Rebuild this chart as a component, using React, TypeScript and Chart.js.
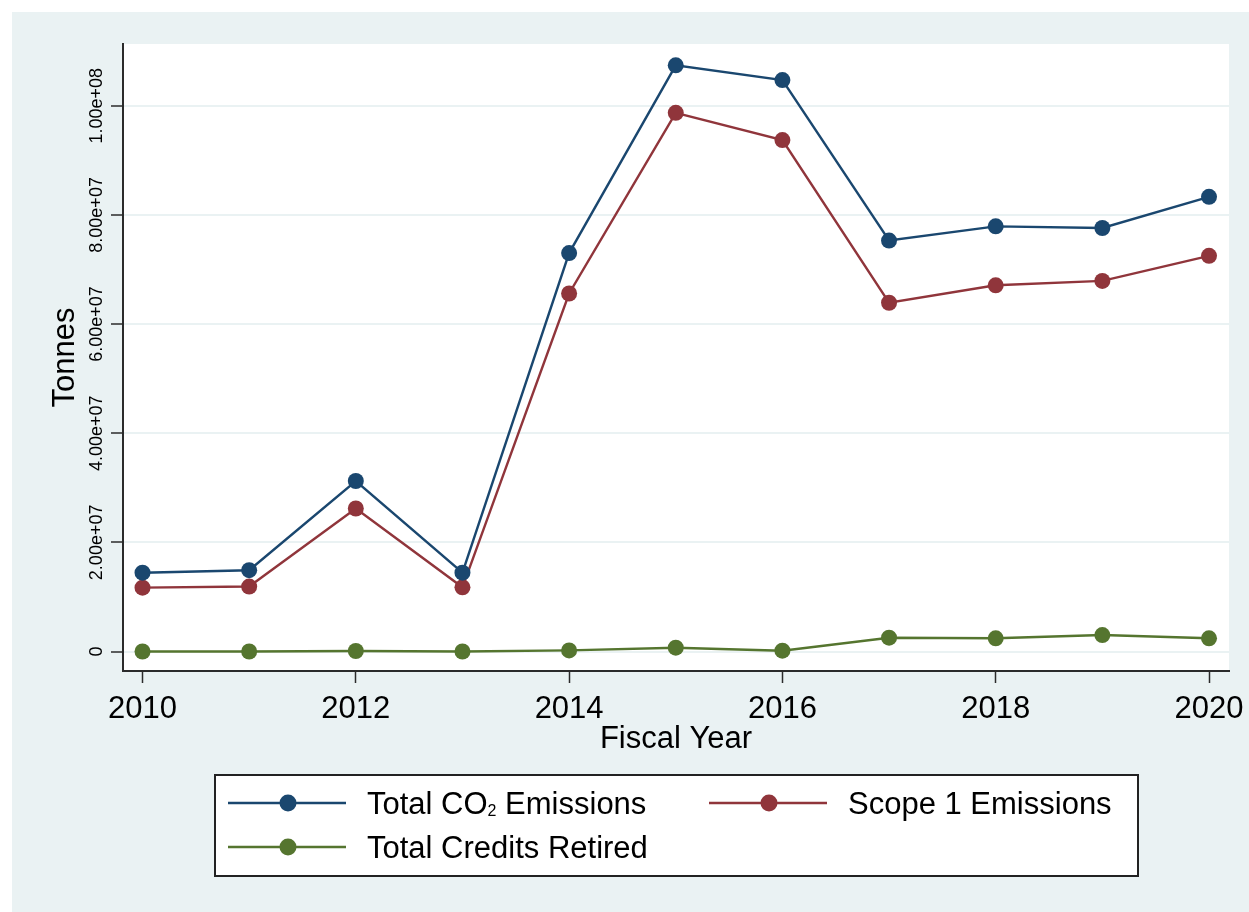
import React, { useEffect, useRef } from 'react';
import { Chart, registerables } from 'chart.js';

Chart.register(...registerables);

// Fiscal years and emissions series (tonnes)
const years = [2010, 2011, 2012, 2013, 2014, 2015, 2016, 2017, 2018, 2019, 2020];
const totalCO2 = [1.444e7, 1.49e7, 3.124e7, 1.444e7, 7.3e7, 1.074e8, 1.047e8, 7.53e7, 7.79e7, 7.76e7, 8.33e7];
const scope1 = [1.17e7, 1.19e7, 2.62e7, 1.176e7, 6.56e7, 9.87e7, 9.37e7, 6.39e7, 6.71e7, 6.79e7, 7.25e7];
const creditsRetired = [0, 0, 1.0e5, 0, 2.0e5, 7.0e5, 1.5e5, 2.53e6, 2.42e6, 3.02e6, 2.42e6];

const seriesLabels = ['Total CO₂ Emissions', 'Scope 1 Emissions', 'Total Credits Retired'];
const seriesColors = ['#1a476f', '#90353b', '#55752f'];

const xTicks = [2010, 2012, 2014, 2016, 2018, 2020];
const yTicks = [0, 2e7, 4e7, 6e7, 8e7, 1e8];
const yTickLabels = ['0', '2.00e+07', '4.00e+07', '6.00e+07', '8.00e+07', '1.00e+08'];

const FONT = "'Liberation Sans', Arial, Helvetica, sans-serif";
const BG = '#eaf2f3';
const AXIS = '#2b2b2b';

// White plot region behind the grid
const plotBackground = {
  id: 'plotBackground',
  beforeDraw(chart: any) {
    const { ctx, chartArea: a } = chart;
    ctx.save();
    ctx.fillStyle = '#ffffff';
    ctx.fillRect(a.left, a.top, a.right - a.left, a.bottom - a.top);
    ctx.restore();
  },
};

// Rotated y tick labels, reading bottom to top
const rotatedYLabels = {
  id: 'rotatedYLabels',
  afterDraw(chart: any) {
    const { ctx } = chart;
    const y = chart.scales.y;
    ctx.save();
    ctx.fillStyle = '#000';
    ctx.font = `18px ${FONT}`;
    ctx.textAlign = 'center';
    ctx.textBaseline = 'alphabetic';
    yTicks.forEach((v, i) => {
      const py = y.getPixelForValue(v);
      ctx.save();
      ctx.translate(y.right - 21.3, py);
      ctx.rotate(-Math.PI / 2);
      ctx.fillText(yTickLabels[i], 0, 0);
      ctx.restore();
    });
    ctx.restore();
  },
};

// Draws a label, rendering "₂" as a lowered small digit
function drawLabel(ctx: CanvasRenderingContext2D, text: string, x: number, baseline: number) {
  const parts = text.split('₂');
  let cx = x;
  parts.forEach((part, i) => {
    ctx.font = `31px ${FONT}`;
    ctx.fillText(part, cx, baseline);
    cx += ctx.measureText(part).width;
    if (i < parts.length - 1) {
      ctx.font = `16px ${FONT}`;
      ctx.fillText('2', cx, baseline + 2);
      cx += ctx.measureText('2').width;
    }
  });
}

// Boxed two-column legend below the axis
const boxedLegend = {
  id: 'boxedLegend',
  afterDraw(chart: any) {
    const { ctx, chartArea: a } = chart;
    const datasets = chart.data.datasets;
    const boxW = 923;
    const boxH = 101;
    const cx = (a.left + a.right) / 2;
    const left = Math.round(cx - boxW / 2);
    const top = a.bottom + 104;
    ctx.save();
    ctx.fillStyle = '#ffffff';
    ctx.fillRect(left, top, boxW, boxH);
    ctx.strokeStyle = '#222';
    ctx.lineWidth = 2;
    ctx.strokeRect(left, top, boxW, boxH);

    const colX = [left + 13, left + 494];
    const rowY = [top + 28, top + 72];
    datasets.forEach((ds: any, i: number) => {
      const col = i % 2;
      const row = Math.floor(i / 2);
      const x0 = colX[col];
      const yc = rowY[row];
      ctx.strokeStyle = ds.borderColor;
      ctx.lineWidth = 2.5;
      ctx.beginPath();
      ctx.moveTo(x0, yc);
      ctx.lineTo(x0 + 118, yc);
      ctx.stroke();
      ctx.fillStyle = ds.borderColor;
      ctx.beginPath();
      ctx.arc(x0 + 60, yc, 8.5, 0, Math.PI * 2);
      ctx.fill();
      ctx.fillStyle = '#000';
      ctx.textAlign = 'left';
      ctx.textBaseline = 'alphabetic';
      drawLabel(ctx, ds.label, x0 + 139, yc + 11);
    });
    ctx.restore();
  },
};

export default function App() {
  const canvasRef = useRef<HTMLCanvasElement | null>(null);

  useEffect(() => {
    const canvas = canvasRef.current;
    if (!canvas) return;
    const values = [totalCO2, scope1, creditsRetired];
    const chart = new Chart(canvas, {
      type: 'line',
      data: {
        datasets: values.map((arr, i) => ({
          label: seriesLabels[i],
          data: years.map((yr, j) => ({ x: yr, y: arr[j] })),
          borderColor: seriesColors[i],
          backgroundColor: seriesColors[i],
          pointBackgroundColor: seriesColors[i],
          pointBorderColor: seriesColors[i],
          pointBorderWidth: 0,
          borderWidth: 2.4,
          pointRadius: 8,
          pointHoverRadius: 8,
          tension: 0,
          fill: false,
        })),
      },
      options: {
        responsive: false,
        animation: false,
        devicePixelRatio: 1,
        layout: { padding: { left: 0, top: 32, right: 20, bottom: 154 } },
        plugins: {
          legend: { display: false },
          tooltip: { enabled: false },
        },
        scales: {
          x: {
            type: 'linear',
            min: 2009.817,
            max: 2020.1875,
            afterBuildTicks: (scale: any) => {
              scale.ticks = xTicks.map((v) => ({ value: v }));
            },
            afterFit: (scale: any) => {
              scale.height = 87;
              scale.paddingLeft = 0;
              scale.paddingRight = 0;
            },
            ticks: {
              color: '#000',
              font: { family: FONT, size: 31 },
              padding: 8,
              maxRotation: 0,
              minRotation: 0,
              callback: (v: any) => String(v),
            },
            grid: {
              drawOnChartArea: false,
              drawTicks: true,
              tickLength: 12,
              tickColor: AXIS,
              tickWidth: 1.5,
              color: AXIS,
            },
            border: { display: true, color: AXIS, width: 2 },
            title: {
              display: true,
              text: 'Fiscal Year',
              color: '#000',
              font: { family: FONT, size: 31 },
              padding: { top: 0, bottom: 0 },
            },
          },
          y: {
            type: 'linear',
            min: -3.57e6,
            max: 1.1131e8,
            afterBuildTicks: (scale: any) => {
              scale.ticks = yTicks.map((v) => ({ value: v }));
            },
            afterFit: (scale: any) => {
              scale.width = 111;
            },
            ticks: { display: false },
            grid: {
              drawOnChartArea: true,
              drawTicks: true,
              tickLength: 12,
              color: BG,
              lineWidth: 2,
              tickColor: AXIS,
              tickWidth: 1.5,
            },
            border: { display: true, color: AXIS, width: 2 },
            title: {
              display: true,
              text: 'Tonnes',
              color: '#000',
              font: { family: FONT, size: 31 },
              padding: { top: 35, bottom: 0 },
            },
          },
        },
      },
      plugins: [plotBackground, rotatedYLabels, boxedLegend],
    } as any);
    return () => chart.destroy();
  }, []);

  return (
    <div
      style={{
        position: 'fixed',
        left: 12,
        top: 12,
        width: 1237,
        height: 900,
        background: BG,
      }}
    >
      <canvas ref={canvasRef} width={1237} height={900} style={{ display: 'block', width: 1237, height: 900 }} />
    </div>
  );
}
